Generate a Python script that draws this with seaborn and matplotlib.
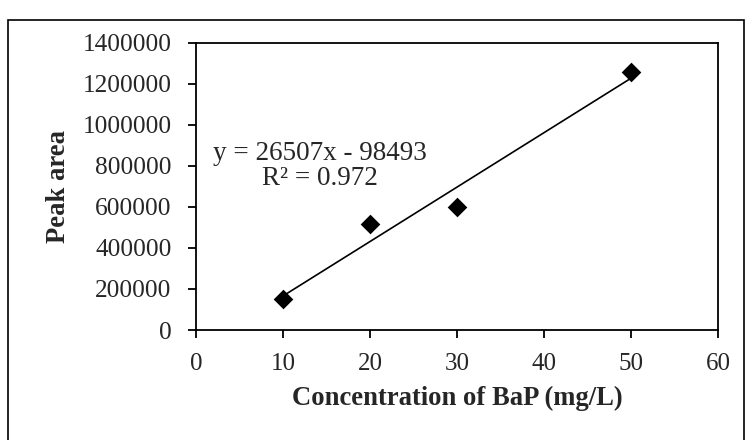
import matplotlib
matplotlib.use("Agg")
import matplotlib.pyplot as plt
import seaborn as sns
import pandas as pd
from matplotlib.patches import Rectangle

conc = [10, 20, 30, 50]
peak_area = [152000, 515000, 598000, 1255000]
x_ticks = [0, 10, 20, 30, 40, 50, 60]
y_ticks = [0, 200000, 400000, 600000, 800000, 1000000, 1200000, 1400000]
equation = "y = 26507x - 98493"
r2_text = "R² = 0.972"

sns.set_style("white")
plt.rcParams['font.family'] = ['Liberation Serif', 'DejaVu Serif']

df = pd.DataFrame({"conc": conc, "area": peak_area})

fig = plt.figure(figsize=(7.49, 4.40), dpi=100)
ax = fig.add_axes([196/749, 1-330/440, (718-196)/749, (330-42.7)/440])

sns.regplot(data=df, x="conc", y="area", ax=ax, ci=None, truncate=True,
            scatter=False, line_kws=dict(color="black", lw=1.2))
sns.scatterplot(data=df, x="conc", y="area", ax=ax, marker="D", s=100,
                color="black", edgecolor="black", linewidth=0, zorder=5)

ax.set_xlim(0, 60)
ax.set_ylim(0, 1400000)
ax.set_xticks(x_ticks)
ax.set_yticks(y_ticks)
ax.set_xticklabels([str(v) for v in x_ticks], fontsize=18)
ax.set_yticklabels([str(v) for v in y_ticks], fontsize=18.3)
ax.tick_params(axis="both", direction="out", length=5.5, width=1.3, color="black",
               bottom=True, left=True)
ax.tick_params(axis="x", pad=11)
ax.tick_params(axis="y", pad=12)
for s in ax.spines.values():
    s.set_visible(True)
    s.set_color("black")
    s.set_linewidth(1.3)

ax.set_xlabel("Concentration of BaP (mg/L)", fontsize=19.2, fontweight="bold", labelpad=8)
ax.set_ylabel("Peak area", fontsize=19.2, fontweight="bold", labelpad=8)

ax.text(14.25, 800000, equation + "\n" + r2_text, fontsize=19.5, ha="center", va="center",
        multialignment="center", linespacing=0.97)

fig.patches.append(Rectangle((8/749, -0.1), (744-8)/749, 1.1 - 20/440,
                             transform=fig.transFigure, fill=False,
                             edgecolor="black", linewidth=1.2))

fig.savefig("out.png", dpi=100)
